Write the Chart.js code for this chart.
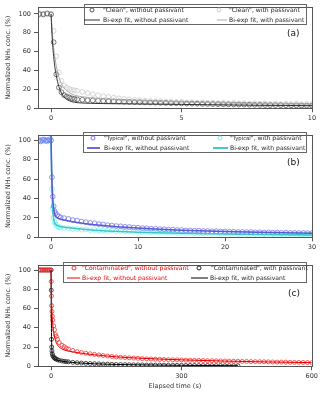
<!DOCTYPE html>
<html lang="en">
<head>
<meta charset="UTF-8">
<title>Normalized NH3 decay</title>
<script src="https://cdn.jsdelivr.net/npm/chart.js"></script>
<style>
    body { margin: 0; background: #fff; font-family: "DejaVu Sans", sans-serif; }
    #wrap { position: relative; width: 320px; height: 396px; overflow: hidden; }
    canvas { position: absolute; left: 0; }
    .lg { position: absolute; border: 1px solid #666; box-sizing: border-box; }
    .t { position: absolute; font-size: 6.1px; line-height: 8px; white-space: nowrap; color: #222; transform: translateY(-50%); }
    .c { position: absolute; width: 5px; height: 5px; border-radius: 50%; border: 0.8px solid; box-sizing: border-box; transform: translate(-50%, -50%); }
    .l { position: absolute; height: 0; border-top: 1px solid; transform: translateY(-50%); }
    .tag { position: absolute; font-size: 9px; color: #111; transform: translateY(-50%); }
    .small { font-size: 5.3px; }
</style>
</head>
<body>
<div id="wrap">
    <canvas id="chartA" width="320" height="128" style="top:0"></canvas>
    <canvas id="chartB" width="320" height="130" style="top:128px"></canvas>
    <canvas id="chartC" width="320" height="138" style="top:258px"></canvas>

    <!-- legend (a) -->
    <div class="lg" style="left:84px;top:4px;width:223px;height:21px"></div>
    <div class="c" style="left:92px;top:10px;border-color:#555"></div>
    <div class="t" style="left:103px;top:10px">"Clean", without passivant</div>
    <div class="c" style="left:219px;top:10px;border-color:#ccc"></div>
    <div class="t" style="left:229px;top:10px">"Clean", with passivant</div>
    <div class="l" style="left:84px;top:19.5px;width:16px;border-color:#333"></div>
    <div class="t" style="left:103px;top:19.5px">Bi-exp fit, without passivant</div>
    <div class="l" style="left:217px;top:19.5px;width:10px;border-color:#aaa"></div>
    <div class="t" style="left:229px;top:19.5px">Bi-exp fit, with passivant</div>
    <div class="tag" style="left:287px;top:33px">(a)</div>

    <!-- legend (b) -->
    <div class="lg" style="left:83px;top:132px;width:224px;height:21px"></div>
    <div class="c" style="left:93px;top:138px;border-color:#7878f0"></div>
    <div class="t" style="left:104px;top:138px">"<span class="small">Typical</span>", without passivant</div>
    <div class="c" style="left:220px;top:138px;border-color:#7ff0f0"></div>
    <div class="t" style="left:230px;top:138px">"<span class="small">Typical</span>", with passivant</div>
    <div class="l" style="left:87px;top:147.5px;width:13px;border-top-width:2px;border-color:#6a6ad8"></div>
    <div class="t" style="left:104px;top:147.5px">Bi-exp fit, without passivant</div>
    <div class="l" style="left:213px;top:147.5px;width:15px;border-top-width:2px;border-color:#40cccc"></div>
    <div class="t" style="left:230px;top:147.5px">Bi-exp fit, with passivant</div>
    <div class="tag" style="left:287px;top:162px">(b)</div>

    <!-- legend (c) -->
    <div class="lg" style="left:63px;top:262px;width:244px;height:21px"></div>
    <div class="c" style="left:74px;top:268px;border-color:#ff3030"></div>
    <div class="t" style="left:82px;top:268px;color:#e00">"Contaminated", without passivant</div>
    <div class="c" style="left:199px;top:268px;border-color:#222"></div>
    <div class="t" style="left:211px;top:268px">"Contaminated", with passivant</div>
    <div class="l" style="left:67px;top:277.5px;width:13px;border-color:#e00"></div>
    <div class="t" style="left:82px;top:277.5px;color:#e00">Bi-exp fit, without passivant</div>
    <div class="l" style="left:191px;top:277.5px;width:17px;border-color:#000"></div>
    <div class="t" style="left:210px;top:277.5px">Bi-exp fit, with passivant</div>
    <div class="tag" style="left:288px;top:293px">(c)</div>
</div>

<script>
    // tick labels
    const yTicks = [0, 20, 40, 60, 80, 100];
    const aXTicks = [0, 5, 10];
    const bXTicks = [0, 10, 20, 30];
    const cXTicks = [0, 300, 600];

    // (a) "Clean" - measured points, elapsed time (s)
    const aTime = [-0.45, -0.3, -0.15, 0,
        0.1, 0.2, 0.3, 0.4, 0.5, 0.6, 0.7, 0.8, 0.9, 1.0,
        1.2, 1.4, 1.6, 1.8, 2.0, 2.2, 2.4, 2.6, 2.8, 3.0, 3.2, 3.4, 3.6, 3.8, 4.0,
        4.2, 4.4, 4.6, 4.8, 5.0, 5.2, 5.4, 5.6, 5.8, 6.0, 6.2, 6.4, 6.6, 6.8, 7.0,
        7.2, 7.4, 7.6, 7.8, 8.0, 8.2, 8.4, 8.6, 8.8, 9.0, 9.2, 9.4, 9.6, 9.8, 10.0];
    const aClean = [100, 99.5, 100.5, 99.5,
        70, 36, 22, 17, 14, 12.5, 11.5, 10.5, 10, 9.5,
        9, 8.6, 8.3, 8, 7.8, 7.6, 7.4, 7.2, 7, 6.8, 6.6, 6.5, 6.3, 6.1, 6,
        5.8, 5.7, 5.5, 5.4, 5.2, 5.1, 5, 4.9, 4.7, 4.6, 4.5, 4.4, 4.3, 4.2, 4.1,
        4, 3.9, 3.8, 3.7, 3.6, 3.5, 3.4, 3.4, 3.3, 3.2, 3.1, 3.1, 3, 2.9, 2.9];
    const aCleanPass = [99, 100.5, 99.5, 100,
        82, 55, 38, 29, 24, 22, 20.5, 19.5, 19, 18.5,
        17.5, 16.2, 15, 13.8, 12.8, 12, 11.2, 10.6, 9.9, 9.4, 8.8, 8.6, 8.1, 7.9, 7.4,
        7.6, 7, 7.2, 6.6, 6.9, 6.3, 6.6, 6, 6.3, 5.8, 6.1, 5.5, 5.9, 5.3, 5.7,
        5.1, 5.5, 4.9, 5.4, 4.8, 5.2, 4.6, 5.1, 4.5, 5, 4.4, 4.9, 4.3, 4.8, 4.4];
    // (a) bi-exponential fits
    const aFitTime = [0, 0.03, 0.06, 0.1, 0.15, 0.2, 0.25, 0.3, 0.4, 0.5, 0.6, 0.7, 0.8, 1, 1.2, 1.5, 2, 3, 4, 5, 6, 7, 8, 9, 10];
    const aFit = [100, 82, 68, 55, 43, 35, 28, 23, 16, 12, 9.5, 8, 7, 6, 5.6, 5.3, 5, 4.7, 4.4, 4.1, 3.8, 3.5, 3.2, 3, 2.8];
    const aFitPass = [100, 88, 76, 64, 53, 45, 38, 33, 26, 21.5, 18.5, 16.5, 15, 13.2, 12.2, 11.2, 10, 8.5, 7.5, 6.6, 6, 5.5, 5, 4.6, 4.3];

    // (b) "Typical"
    const bTime = [-1.4, -1.2, -1.0, -0.8, -0.6, -0.4, -0.2, 0,
        0.1, 0.2, 0.3, 0.4, 0.5, 0.7, 0.9, 1.1,
        1.5, 2, 2.5, 3, 3.5, 4, 4.5, 5, 5.5, 6, 6.5, 7, 7.5, 8, 8.5, 9, 9.5, 10,
        10.5, 11, 11.5, 12, 12.5, 13, 13.5, 14, 14.5, 15, 15.5, 16, 16.5, 17, 17.5, 18,
        18.5, 19, 19.5, 20, 20.5, 21, 21.5, 22, 22.5, 23, 23.5, 24, 24.5, 25, 25.5, 26,
        26.5, 27, 27.5, 28, 28.5, 29, 29.5, 30];
    const bTypical = [100, 99, 100.5, 101, 99.5, 100, 101, 100,
        62, 42, 32, 27, 25, 23, 21.5, 20.5,
        19.8, 19, 17.8, 17.2, 16.2, 15.6, 14.8, 14.4, 13.6, 13.2, 12.5, 12.2, 11.6, 11.3, 10.8, 10.6, 10.1, 9.9,
        9.5, 9.3, 8.9, 8.8, 8.4, 8.3, 7.9, 7.9, 7.5, 7.5, 7.1, 7.1, 6.8, 6.8, 6.5, 6.5,
        6.2, 6.3, 6, 6, 5.7, 5.8, 5.5, 5.6, 5.3, 5.4, 5.1, 5.2, 4.9, 5.1, 4.8, 4.9,
        4.6, 4.8, 4.5, 4.6, 4.4, 4.5, 4.3, 4.4];
    const bTypicalPass = [101, 100, 99.5, 100, 100.5, 99, 100, 100.5,
        50, 30, 20, 16, 13.5, 11.5, 10.5, 10,
        9.5, 9.2, 8.5, 8.6, 7.9, 8.1, 7.4, 7.6, 7, 7.2, 6.6, 6.9, 6.3, 6.6, 6, 6.3, 5.7, 6,
        5.5, 5.8, 5.2, 5.6, 5, 5.4, 4.8, 5.2, 4.6, 5, 4.4, 4.8, 4.3, 4.6, 4.1, 4.4,
        4, 4.3, 3.8, 4.1, 3.7, 4, 3.5, 3.8, 3.4, 3.7, 3.3, 3.6, 3.2, 3.5, 3.1, 3.4,
        3, 3.3, 2.9, 3.2, 2.8, 3.1, 2.8, 3];
    const bFitTime = [0, 0.03, 0.06, 0.1, 0.15, 0.2, 0.3, 0.4, 0.5, 0.75, 1, 1.5, 2, 3, 4, 5, 6, 8, 10, 12, 15, 18, 20, 25, 30];
    const bFit = [106, 88, 74, 60, 48, 40, 30, 25, 22, 20, 19, 17.8, 16.8, 15.2, 14, 13, 12.2, 10.7, 9.5, 8.5, 7.3, 6.4, 5.9, 5, 4.3];
    const bFitPass = [106, 84, 66, 50, 36, 28, 19, 15.5, 13.5, 12, 11.2, 10.4, 9.8, 8.9, 8.1, 7.4, 6.8, 6, 5.3, 4.8, 4.2, 3.7, 3.4, 2.9, 2.5];

    // (c) "Contaminated"
    const cTime = [-28, -24, -20, -16, -12, -8, -4, 0,
        0.5, 1, 1.5, 2, 3, 4, 6, 8, 10, 12, 15, 19, 25, 30, 35, 40, 50,
        60, 70, 80, 90, 100, 110, 120, 130, 140, 150, 160, 170, 180, 190, 200,
        210, 220, 230, 240, 250, 260, 270, 280, 290, 300, 310, 320, 330, 340, 350,
        360, 370, 380, 390, 400, 410, 420, 430, 440, 450, 460, 470, 480, 490, 500,
        510, 520, 530, 540, 550, 560, 570, 580, 590, 600];
    const cContam = [100, 100, 100, 100, 100, 100, 100, 100,
        88, 73, 63, 57, 52, 48, 42, 38, 33, 31, 28, 24.6, 22, 20.5, 19, 18, 16.5,
        15.2, 14.3, 13.6, 13, 12.4, 11.8, 11.2, 10.7, 10.2, 9.7, 9.4, 9.1, 8.8, 8.5, 8.3,
        8, 7.8, 7.6, 7.4, 7.2, 7.1, 6.9, 6.8, 6.7, 6.6, 6.4, 6.3, 6.2, 6.1, 6,
        5.9, 5.8, 5.7, 5.6, 5.5, 5.4, 5.3, 5.2, 5.1, 5, 4.9, 4.8, 4.8, 4.7, 4.6,
        4.5, 4.4, 4.4, 4.3, 4.2, 4.1, 4.1, 4, 3.9, 3.8];
    const cContamPass = [100, 100, 100, 100, 100, 100, 100, 100,
        79, 28, 20, 16, 13, 11, 9.5, 8.5, 8, 7.5, 6.8, 6.2, 5.6, 5.2, 4.9, 4.6, 4.1,
        3.7, 3.4, 3.1, 2.9, 2.7, 2.5, 2.3, 2.2, 2, 1.9, 1.8, 1.7, 1.6, 1.5, 1.5,
        1.4, 1.3, 1.3, 1.2, 1.2, 1.1, 1.1, 1, 1, 1, 0.9, 0.9, 0.9, 0.8, 0.8,
        0.8, 0.7, 0.7, 0.7, 0.6, 0.6, 0.6, 0.5];
    const cFitTime = [0, 0.5, 1, 2, 3, 5, 7, 10, 15, 20, 30, 40, 50, 60, 80, 100, 150, 200, 250, 300, 400, 500, 600];
    const cFit = [100, 85, 72, 58, 49, 39, 33, 27, 22, 19.5, 17, 15.8, 15, 14.3, 13, 12, 9.8, 8.5, 7.5, 6.7, 5.4, 4.5, 3.8];
    const cFitPassTime = [0, 0.3, 0.6, 1, 1.5, 2, 3, 5, 10, 20, 40, 60, 100, 150, 200, 300, 430];
    const cFitPass = [100, 75, 55, 35, 22, 16, 12, 9.5, 7.3, 5.8, 4.4, 3.6, 2.6, 1.9, 1.5, 1, 0.6];

    const FONT = "'DejaVu Sans', sans-serif";
    const pts = (t, v) => v.map((y, i) => ({ x: t[i], y: y }));

    function circles(t, v, color, r) {
        return { data: pts(t, v), showLine: false, pointStyle: 'circle', pointRadius: r,
            pointBorderWidth: 0.8, borderColor: color, backgroundColor: 'rgba(0,0,0,0)', order: 2 };
    }
    function fit(t, v, color, w) {
        return { data: pts(t, v), showLine: true, pointRadius: 0, borderColor: color, borderWidth: w,
            cubicInterpolationMode: 'monotone', fill: false, order: 1 };
    }

    // box around the plot area
    const frame = {
        id: 'frame',
        afterDatasetsDraw(chart) {
            const { ctx, chartArea: a } = chart;
            ctx.save();
            ctx.strokeStyle = '#555';
            ctx.lineWidth = 1;
            ctx.strokeRect(Math.round(a.left) + 0.5, Math.round(a.top) + 0.5,
                Math.round(a.right - a.left), Math.round(a.bottom - a.top));
            ctx.restore();
        }
    };

    function panel(id, h, top, bottom, xRange, yMax, xTicks, datasets, xTitle) {
        new Chart(document.getElementById(id), {
            type: 'scatter',
            data: { datasets: datasets },
            options: {
                responsive: false,
                animation: false,
                layout: { padding: { top: top, right: 8, left: 0, bottom: 0 } },
                plugins: { legend: { display: false }, tooltip: { enabled: false } },
                scales: {
                    x: {
                        type: 'linear', min: xRange[0], max: xRange[1],
                        afterBuildTicks: s => { s.ticks = xTicks.map(v => ({ value: v })); },
                        afterFit: s => { s.height = h - bottom; },
                        grid: { drawOnChartArea: false, tickLength: 4, color: '#555' },
                        border: { display: false },
                        ticks: { padding: 2, autoSkip: false, maxRotation: 0, color: '#333', font: { family: FONT, size: 6.5 } },
                        title: { display: !!xTitle, text: xTitle || '', color: '#333', padding: { top: 0, bottom: 6 }, font: { family: FONT, size: 6.5 } }
                    },
                    y: {
                        min: 0, max: yMax,
                        afterBuildTicks: s => { s.ticks = yTicks.map(v => ({ value: v })); },
                        afterFit: s => { s.width = 38; },
                        grid: { drawOnChartArea: false, tickLength: 4, color: '#555' },
                        border: { display: false },
                        ticks: { padding: 3, autoSkip: false, color: '#333', font: { family: FONT, size: 6.5 } },
                        title: { display: true, text: 'Normalized NH\u2083 conc. (%)', color: '#333', padding: { top: 4, bottom: 0 }, font: { family: FONT, size: 6.5 } }
                    }
                }
            },
            plugins: [frame]
        });
    }

    panel('chartA', 128, 2, 108.3, [-0.5, 10], 107.4, aXTicks, [
        fit(aFitTime, aFit, '#333', 1),
        fit(aFitTime, aFitPass, '#aaa', 1),
        circles(aTime, aClean, '#555', 2.4),
        circles(aTime, aCleanPass, '#ccc', 2.4)
    ]);

    panel('chartB', 130, 4.3, 109.3, [-1.5, 30], 105.7, bXTicks, [
        fit(bFitTime, bFit, '#5a5ad0', 1.5),
        fit(bFitTime, bFitPass, '#3cc8c8', 1.5),
        circles(bTime, bTypical, '#7878f0', 2.4),
        circles(bTime, bTypicalPass, '#7ff0f0', 2.4)
    ]);

    panel('chartC', 138, 3, 108.3, [-30, 600], 105.3, cXTicks, [
        fit(cFitTime, cFit, '#e00000', 1),
        fit(cFitPassTime, cFitPass, '#000', 1),
        circles(cTime, cContam, '#ff3030', 2),
        circles(cTime, cContamPass, '#222', 2)
    ], 'Elapsed time (s)');
</script>
</body>
</html>
